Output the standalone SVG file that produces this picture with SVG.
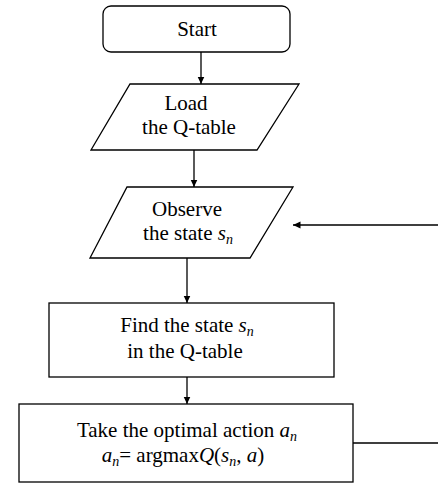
<svg xmlns="http://www.w3.org/2000/svg" width="438" height="486" viewBox="0 0 438 486">
<style>
.shape{fill:#fff;stroke:#000;stroke-width:1.3}
.t{font-family:"Liberation Serif","Times New Roman",serif;font-size:21px;fill:#000;text-anchor:middle}
.i{font-style:italic}
.sub{font-size:14px;font-style:italic}
.c{fill:none;stroke:#000;stroke-width:1.3}
</style>
<defs>
<marker id="ah" markerUnits="userSpaceOnUse" markerWidth="9" markerHeight="8" refX="7.5" refY="3.5" orient="auto">
<path d="M0,0 L7.5,3.5 L0,7 Z" fill="#000"/>
</marker>
</defs>
<g id="connectors">
<line class="c" x1="201" y1="52" x2="201" y2="84" marker-end="url(#ah)"/>
<line class="c" x1="194" y1="150" x2="194" y2="187" marker-end="url(#ah)"/>
<line class="c" x1="187" y1="258" x2="187" y2="303" marker-end="url(#ah)"/>
<line class="c" x1="187" y1="377" x2="187" y2="404" marker-end="url(#ah)"/>
<path class="c" d="M353,443 H441 V225 H293" marker-end="url(#ah)"/>
</g>
<g id="start">
<rect class="shape" x="103" y="6" width="187" height="46" rx="8"/>
<text class="t" x="197" y="36">Start</text>
</g>
<g id="load">
<polygon class="shape" points="130,84 299,84 257,150 91,150"/>
<text class="t" x="186" y="110">Load</text>
<text class="t" x="189" y="134">the Q-table</text>
</g>
<g id="observe">
<polygon class="shape" points="127,187 293,187 250,258 90,258"/>
<text class="t" x="187" y="216">Observe</text>
<text class="t" x="188" y="240">the state <tspan class="i">s</tspan><tspan class="sub" dy="4">n</tspan></text>
</g>
<g id="find">
<rect class="shape" x="49" y="303" width="285" height="74"/>
<text class="t" x="187" y="332">Find the state <tspan class="i">s</tspan><tspan class="sub" dy="4">n</tspan></text>
<text class="t" x="185" y="358">in the Q-table</text>
</g>
<g id="take">
<rect class="shape" x="19" y="404" width="334" height="78"/>
<text class="t" x="187" y="437">Take the optimal action <tspan class="i">a</tspan><tspan class="sub" dy="4">n</tspan></text>
<text class="t" x="183" y="462"><tspan class="i">a</tspan><tspan class="sub" dy="4">n</tspan><tspan dy="-4">= argmax</tspan><tspan class="i">Q</tspan>(<tspan class="i">s</tspan><tspan class="sub" dy="4">n</tspan><tspan dy="-4">, </tspan><tspan class="i">a</tspan>)</text>
</g>
</svg>
